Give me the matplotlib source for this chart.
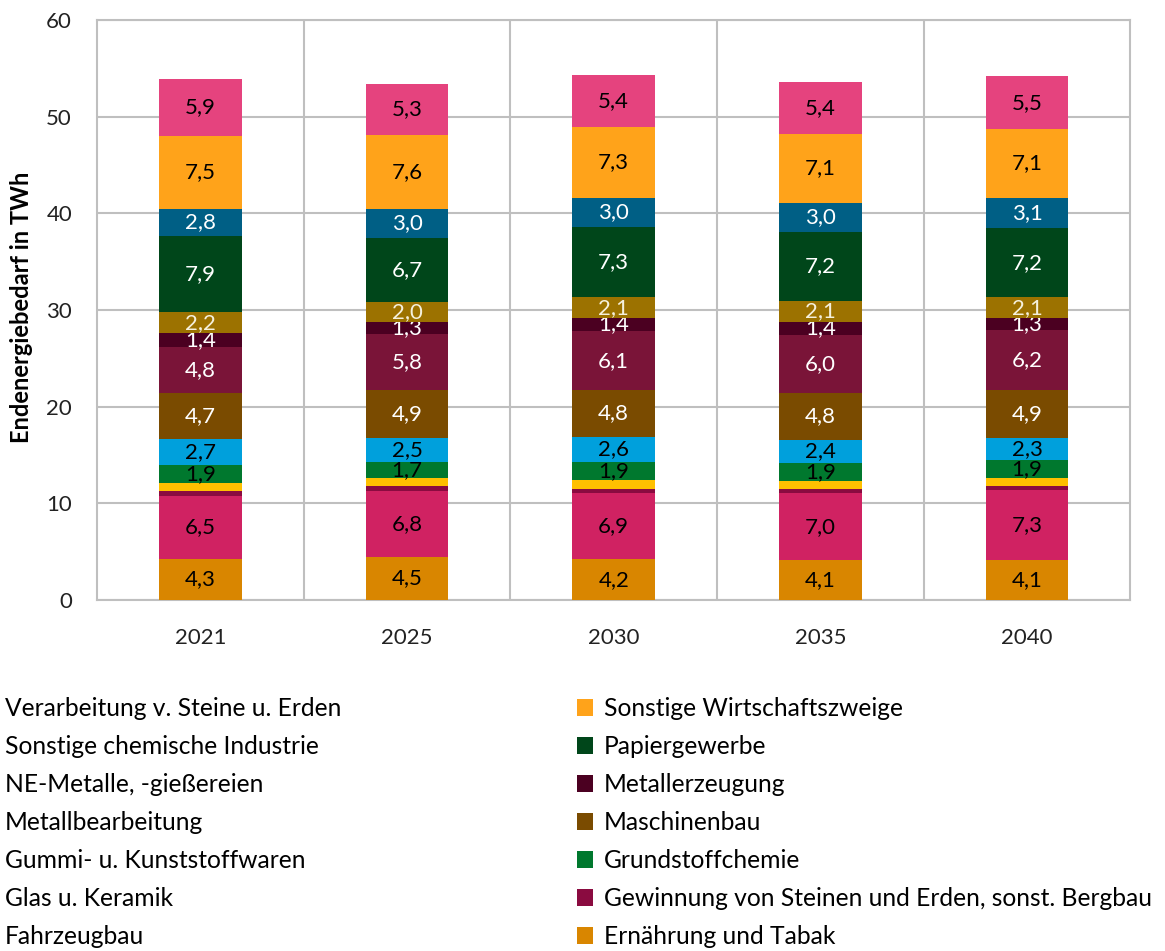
import matplotlib.pyplot as plt
import numpy as np
from matplotlib.patches import Patch

plt.rcParams['font.family'] = ['Lato', 'DejaVu Sans']

years = ['2021', '2025', '2030', '2035', '2040']

# stacked bottom -> top
sectors = ['Ernährung und Tabak', 'Fahrzeugbau',
           'Gewinnung von Steinen und Erden, sonst. Bergbau', 'Glas u. Keramik',
           'Grundstoffchemie', 'Gummi- u. Kunststoffwaren', 'Maschinenbau',
           'Metallbearbeitung', 'Metallerzeugung', 'NE-Metalle, -gießereien',
           'Papiergewerbe', 'Sonstige chemische Industrie',
           'Sonstige Wirtschaftszweige', 'Verarbeitung v. Steine u. Erden']

ernaehrung = [4.3, 4.5, 4.2, 4.1, 4.1]
fahrzeugbau = [6.5, 6.8, 6.9, 7.0, 7.3]
gewinnung = [0.5, 0.5, 0.4, 0.4, 0.4]
glas = [0.8, 0.8, 0.9, 0.8, 0.8]
grundstoff = [1.9, 1.7, 1.9, 1.9, 1.9]
gummi = [2.7, 2.5, 2.6, 2.4, 2.3]
maschinenbau = [4.7, 4.9, 4.8, 4.8, 4.9]
metallbearb = [4.8, 5.8, 6.1, 6.0, 6.2]
metallerz = [1.4, 1.3, 1.4, 1.4, 1.3]
ne_metalle = [2.2, 2.0, 2.1, 2.1, 2.1]
papier = [7.9, 6.7, 7.3, 7.2, 7.2]
sonst_chem = [2.8, 3.0, 3.0, 3.0, 3.1]
sonst_wz = [7.5, 7.6, 7.3, 7.1, 7.1]
verarbeitung = [5.9, 5.3, 5.4, 5.4, 5.5]

values = [ernaehrung, fahrzeugbau, gewinnung, glas, grundstoff, gummi,
          maschinenbau, metallbearb, metallerz, ne_metalle, papier,
          sonst_chem, sonst_wz, verarbeitung]

colors = ['#D98600', '#D02262', '#8A0B40', '#FFC000', '#00782E', '#00A0DC',
          '#7A4B00', '#7A1438', '#4B0021', '#9C7200', '#00461A', '#005F85',
          '#FFA31A', '#E5437E']
text_colors = ['black', 'black', None, None, 'black', 'black', 'white',
               'white', 'white', '#F5F0DC', 'white', 'white', 'black', 'black']

fig = plt.figure(figsize=(11.65, 9.51), dpi=100)
ax = fig.add_axes([0.0833, 0.369, 0.887, 0.610])

x = np.arange(len(years))
bottom = np.zeros(len(years))
handles = []
for name, vals, col, tc in zip(sectors, values, colors, text_colors):
    bars = ax.bar(x, vals, 0.4, bottom=bottom, color=col, label=name, zorder=3)
    handles.append(bars)
    if tc is not None:
        ax.bar_label(bars, labels=[f'{v:.1f}'.replace('.', ',') for v in vals],
                     label_type='center', color=tc, fontsize=16)
    bottom += np.array(vals)

ax.set_ylim(0, 60)
ax.set_xlim(-0.5, 4.5)
ax.set_yticks(range(0, 61, 10))
ax.set_xticks(x)
ax.set_xticklabels(years)
ax.set_xticks(np.arange(0.5, 4.5, 1), minor=True)
ax.tick_params(axis='both', which='both', length=0, labelsize=16, colors='#222222')
ax.tick_params(axis='x', pad=20)
ax.tick_params(axis='y', pad=18)
ax.grid(axis='y', color='#BFBFBF', linewidth=1.5, zorder=0)
ax.grid(axis='x', which='minor', color='#BFBFBF', linewidth=1.5, zorder=0)
for s in ax.spines.values():
    s.set_color('#BFBFBF')
    s.set_linewidth(1.5)
ax.set_ylabel('Endenergiebedarf in TWh', fontsize=17, fontweight='bold')
ax.yaxis.set_label_coords(-0.062, 0.505)

# legend: left column shows no swatches, right column with swatches
rev = list(range(len(sectors)))[::-1]
left_idx = rev[0::2]
right_idx = rev[1::2]
leg1 = fig.legend([Patch(visible=False) for i in left_idx],
                  [sectors[i] for i in left_idx],
                  loc='upper left', bbox_to_anchor=(0.004, 0.267),
                  frameon=False, handlelength=0, handletextpad=0,
                  borderaxespad=0, borderpad=0, fontsize=17.7, labelspacing=0.61)
leg2 = fig.legend([handles[i] for i in right_idx],
                  [sectors[i] for i in right_idx],
                  loc='upper left', bbox_to_anchor=(0.495, 0.267),
                  frameon=False, handlelength=0.65, handleheight=0.65,
                  handletextpad=0.45, borderaxespad=0, borderpad=0,
                  fontsize=17.7, labelspacing=0.61)

fig.savefig('out.png', dpi=100)
